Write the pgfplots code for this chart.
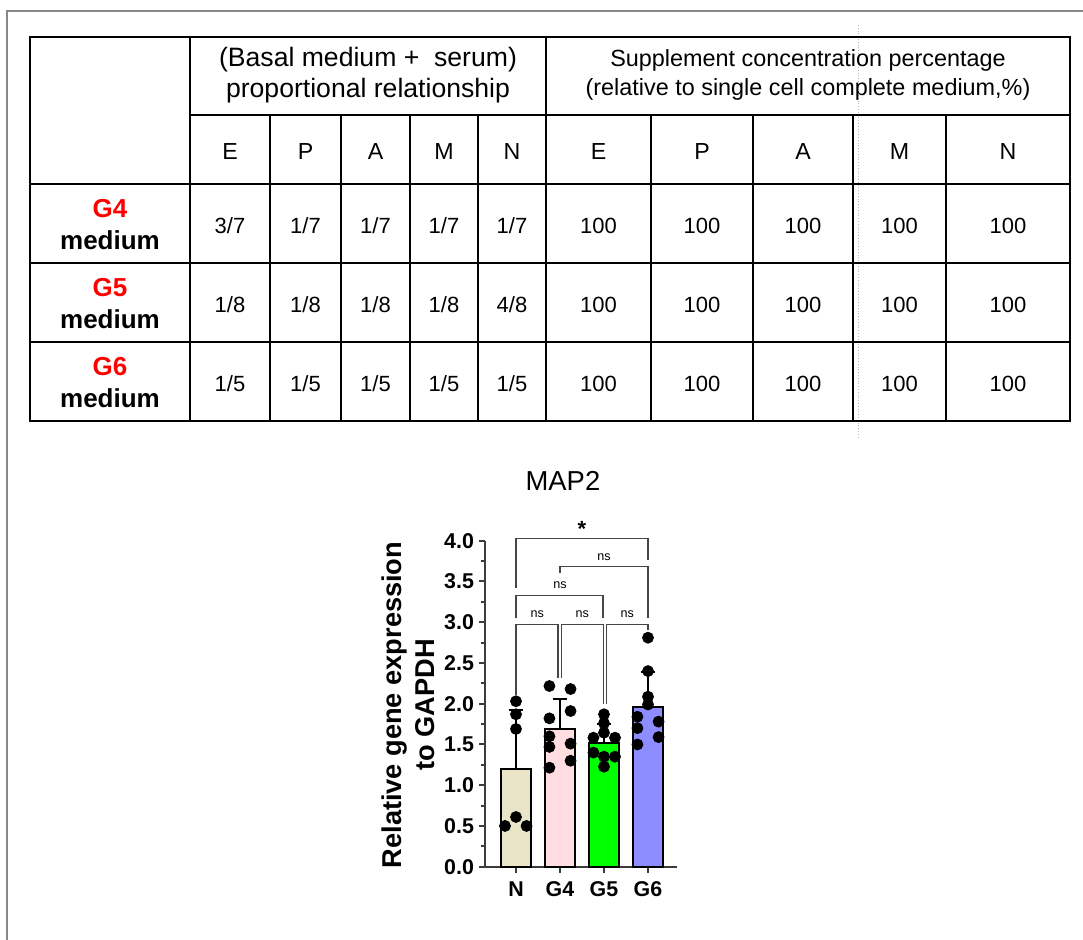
\documentclass[border=0pt]{standalone}
\usepackage{pgfplots}
\pgfplotsset{compat=1.18}
\usepackage{fontspec}
\setmainfont{Liberation Sans}
\definecolor{cN}{RGB}{234,228,200}
\definecolor{cGfour}{RGB}{255,221,224}
\definecolor{cGfive}{RGB}{0,255,0}
\definecolor{cGsix}{RGB}{141,141,255}
\definecolor{framegray}{RGB}{135,135,135}
\definecolor{brk}{RGB}{70,70,70}
\definecolor{axgray}{RGB}{60,60,60}
\definecolor{gred}{RGB}{255,0,0}
\begin{document}
\begin{tikzpicture}
\path[use as bounding box] (0,0) rectangle (541.5pt,469.5pt);
% ---------- frame and table (pixel coordinates) ----------
\begin{scope}[x=0.5pt,y=-0.5pt,yshift=469.5pt]
\draw[framegray,line width=1pt] (7,945) -- (7,11) -- (1090,11);
\draw[gray!55,densely dotted,line width=0.4pt] (858,25) -- (858,437);
\begin{scope}[line width=1pt,black]
\draw (30,37) rectangle (1070,421);
\draw (190,37) -- (190,421);
\draw (546,37) -- (546,421);
\foreach \xx in {270,341,410,478,651,753,853,946} \draw (\xx,115) -- (\xx,421);
\draw (190,115) -- (1070,115);
\foreach \yy in {184,263,342} \draw (30,\yy) -- (1070,\yy);
\end{scope}
% header texts
\node[anchor=base,font=\fontsize{13.3}{16}\selectfont] at (368,67) {(Basal medium +\ \ serum)};
\node[anchor=base,font=\fontsize{13.3}{16}\selectfont] at (368,98) {proportional relationship};
\node[anchor=base,font=\fontsize{11.7}{14}\selectfont] at (808,67) {Supplement concentration percentage};
\node[anchor=base,font=\fontsize{11.7}{14}\selectfont] at (808,96) {(relative to single cell complete medium,\%)};
% second header row
\foreach \xx/\tt in {230/E,305.5/P,375.5/A,444/M,512/N,598.5/E,702/P,803/A,899.5/M,1008/N}
  \node[anchor=base,font=\fontsize{11.6}{14}\selectfont] at (\xx,160) {\tt};
% row labels
\node[anchor=base,font=\fontsize{13}{16}\bfseries\selectfont,text=gred] at (110,218) {G4};
\node[anchor=base,font=\fontsize{13}{16}\bfseries\selectfont] at (110,250) {medium};
\node[anchor=base,font=\fontsize{13}{16}\bfseries\selectfont,text=gred] at (110,297) {G5};
\node[anchor=base,font=\fontsize{13}{16}\bfseries\selectfont] at (110,329) {medium};
\node[anchor=base,font=\fontsize{13}{16}\bfseries\selectfont,text=gred] at (110,376) {G6};
\node[anchor=base,font=\fontsize{13}{16}\bfseries\selectfont] at (110,408) {medium};
% values
\foreach \xx/\tt in {230/3\slash 7,305.5/1\slash 7,375.5/1\slash 7,444/1\slash 7,512/1\slash 7}
  \node[anchor=base,font=\fontsize{11}{13}\selectfont] at (\xx,233.5) {\tt};
\foreach \xx/\tt in {230/1\slash 8,305.5/1\slash 8,375.5/1\slash 8,444/1\slash 8,512/4\slash 8}
  \node[anchor=base,font=\fontsize{11}{13}\selectfont] at (\xx,312.5) {\tt};
\foreach \xx/\tt in {230/1\slash 5,305.5/1\slash 5,375.5/1\slash 5,444/1\slash 5,512/1\slash 5}
  \node[anchor=base,font=\fontsize{11}{13}\selectfont] at (\xx,391.5) {\tt};
\foreach \yy in {233.5,312.5,391.5}
  \foreach \xx in {598.5,702,803,899.5,1008}
    \node[anchor=base,font=\fontsize{11}{13}\selectfont] at (\xx,\yy) {100};
\end{scope}
% ---------- bar chart ----------
\begin{axis}[
  at={(242.5pt,36.15pt)}, anchor=south west,
  scale only axis, width=96pt, height=163pt,
  xmin=-0.7045, xmax=3.659, ymin=0, ymax=4,
  clip=false,
  axis x line*=bottom, axis y line*=left,
  axis line style={line width=1pt,axgray},
  tick style={line width=1pt,axgray},
  tick align=outside,
  major tick length=3pt, minor tick length=2pt,
  xtick={0,1,2,3}, xticklabels={N,G4,G5,G6},
  ytick={0,0.5,1,1.5,2,2.5,3,3.5,4},
  minor y tick num=1,
  tick label style={font=\fontsize{10.7}{12}\bfseries\selectfont},
  yticklabel style={/pgf/number format/fixed,/pgf/number format/fixed zerofill,/pgf/number format/precision=1,/pgf/number format/assume math mode=true,xshift=1pt},
  xticklabel style={yshift=-1pt},
  title={MAP2},
  title style={at={(axis description cs:0.406,1.146)},anchor=center,font=\fontsize{13.7}{16}\selectfont},
  ylabel={Relative gene expression\\to GAPDH},
  ylabel style={at={(axis description cs:-0.40,0.496)},anchor=center,rotate=0,align=center,font=\fontsize{13.6}{16.5}\bfseries\selectfont},
]
\addplot[ybar,bar width=0.66,bar shift=0pt,fill=cN,draw=black,line width=1pt,
  error bars/.cd,y dir=plus,y explicit,error bar style={line width=1pt,black},
  error mark options={rotate=90,line width=1pt,mark size=3.7pt,black}]
  coordinates {(0,1.195) +- (0,0.73)};
\addplot[ybar,bar width=0.66,bar shift=0pt,fill=cGfour,draw=black,line width=1pt,
  error bars/.cd,y dir=plus,y explicit,error bar style={line width=1pt,black},
  error mark options={rotate=90,line width=1pt,mark size=3.7pt,black}]
  coordinates {(1,1.69) +- (0,0.362)};
\addplot[ybar,bar width=0.66,bar shift=0pt,fill=cGfive,draw=black,line width=1pt,
  error bars/.cd,y dir=plus,y explicit,error bar style={line width=1pt,black},
  error mark options={rotate=90,line width=1pt,mark size=3.7pt,black}]
  coordinates {(2,1.514) +- (0,0.235)};
\addplot[ybar,bar width=0.66,bar shift=0pt,fill=cGsix,draw=black,line width=1pt,
  error bars/.cd,y dir=plus,y explicit,error bar style={line width=1pt,black},
  error mark options={rotate=90,line width=1pt,mark size=3.7pt,black}]
  coordinates {(3,1.963) +- (0,0.42)};
% individual points
\addplot[only marks,mark=*,mark size=2.75pt,black] coordinates {
  (-0.25,0.50) (0,0.61) (0.24,0.50) (0,1.69) (0,1.87) (0,2.03)
  (0.76,2.217) (1.24,2.18) (0.76,1.82) (1.24,1.91) (0.76,1.60) (0.76,1.47) (1.24,1.51) (0.76,1.215) (1.24,1.30)
  (2,1.87) (2,1.76) (1.76,1.583) (2,1.644) (2.25,1.583) (1.76,1.40) (2,1.35) (2.25,1.35) (2,1.227)
  (3,2.81) (3,2.40) (3,2.086) (3,1.99) (2.76,1.84) (3.24,1.78) (2.76,1.70) (3.24,1.59) (2.76,1.50)
};
% significance brackets
\begin{scope}[brk,line width=0.7pt]
\draw (axis cs:0,3.416) -- (axis cs:0,4.03) -- (axis cs:3,4.03) -- (axis cs:3,3.763);
\draw (axis cs:1,3.60) -- (axis cs:1,3.681) -- (axis cs:3,3.681) -- (axis cs:3,3.048);
\draw (axis cs:0,3.048) -- (axis cs:0,3.325) -- (axis cs:1.98,3.325) -- (axis cs:1.98,3.048);
\draw (axis cs:0,2.11) -- (axis cs:0,2.974) -- (axis cs:0.955,2.974) -- (axis cs:0.955,2.31);
\draw (axis cs:1.04,2.31) -- (axis cs:1.04,2.974) -- (axis cs:1.985,2.974) -- (axis cs:1.985,2.0);
\draw (axis cs:2.06,2.0) -- (axis cs:2.06,2.974) -- (axis cs:3,2.974) -- (axis cs:3,2.9);
\end{scope}
\node[font=\fontsize{6.3}{7}\selectfont,text=black] at (axis cs:0.484,3.097) {ns};
\node[font=\fontsize{6.3}{7}\selectfont,text=black] at (axis cs:1.507,3.097) {ns};
\node[font=\fontsize{6.3}{7}\selectfont,text=black] at (axis cs:2.53,3.097) {ns};
\node[font=\fontsize{6.3}{7}\selectfont,text=black] at (axis cs:1.0,3.456) {ns};
\node[font=\fontsize{6.3}{7}\selectfont,text=black] at (axis cs:2.0,3.80) {ns};
\node[font=\fontsize{11}{12}\bfseries\selectfont,text=black] at (axis cs:1.5,4.15) {*};
\end{axis}
\end{tikzpicture}
\end{document}
